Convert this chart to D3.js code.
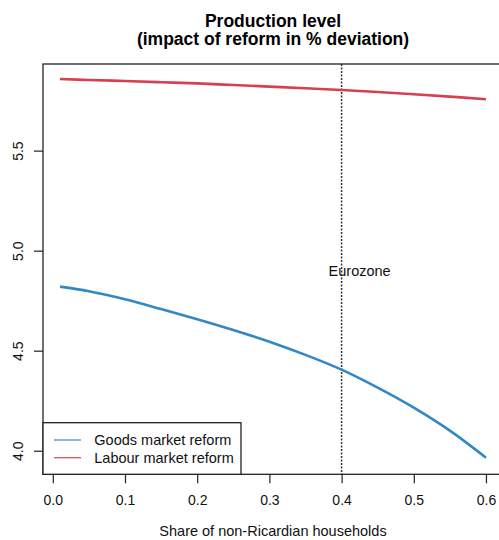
<!DOCTYPE html>
<html>
<head>
<meta charset="utf-8">
<script src="https://cdn.jsdelivr.net/npm/d3@7"></script>
<style>
  html, body { margin: 0; padding: 0; background: #fff; }
  svg { display: block; font-family: "Liberation Sans", Arial, sans-serif; }
</style>
</head>
<body>
<svg id="chart" width="499" height="540"></svg>
<script>
// ---- data ----
const shares = [0.01, 0.05, 0.10, 0.15, 0.20, 0.25, 0.30, 0.35, 0.40, 0.45, 0.50, 0.55, 0.60];
const goodsMarket = [4.82, 4.797, 4.757, 4.708, 4.657, 4.603, 4.545, 4.479, 4.405, 4.315, 4.215, 4.10, 3.965];
const labourMarket = [5.858, 5.853, 5.848, 5.842, 5.836, 5.828, 5.82, 5.812, 5.803, 5.793, 5.782, 5.77, 5.757];
const xTicks = [0.0, 0.1, 0.2, 0.3, 0.4, 0.5, 0.6];
const yTicks = [4.0, 4.5, 5.0, 5.5];
const seriesNames = ["Goods market reform", "Labour market reform"];
const seriesColors = ["#3288c4", "#d9404f"];
const eurozoneShare = 0.4;
const eurozoneLabel = "Eurozone";
const titleLines = ["Production level", "(impact of reform in % deviation)"];
const xTitle = "Share of non-Ricardian households";

// ---- layout ----
const svg = d3.select("#chart");
const plot = { left: 43, right: 503, top: 64, bottom: 474.3 };

const x = d3.scaleLinear().domain([-0.0136, 0.6236]).range([plot.left, plot.right]);
const y = d3.scaleLinear().domain([3.882, 5.933]).range([plot.bottom, plot.top]);

// title
svg.append("g").selectAll("text").data(titleLines).join("text")
  .attr("x", (plot.left + plot.right) / 2)
  .attr("y", (d, i) => 26.5 + i * 18.5)
  .attr("text-anchor", "middle")
  .attr("font-weight", "bold")
  .attr("font-size", 17.5)
  .attr("fill", "#000")
  .text(d => d);

// clip
svg.append("clipPath").attr("id", "clip").append("rect")
  .attr("x", plot.left).attr("y", plot.top)
  .attr("width", plot.right - plot.left).attr("height", plot.bottom - plot.top);

const g = svg.append("g").attr("clip-path", "url(#clip)");

// vertical dotted line
g.append("line")
  .attr("x1", x(eurozoneShare)).attr("x2", x(eurozoneShare))
  .attr("y1", plot.top).attr("y2", plot.bottom)
  .attr("stroke", "#333").attr("stroke-width", 1.5)
  .attr("stroke-dasharray", "2,1.5");

// series
const series = [goodsMarket, labourMarket];
const line = d3.line()
  .x((d, i) => x(shares[i]))
  .y(d => y(d))
  .curve(d3.curveCatmullRom.alpha(0.5));

g.selectAll("path.series").data(series).join("path")
  .attr("class", "series")
  .attr("d", d => line(d))
  .attr("fill", "none")
  .attr("stroke", (d, i) => seriesColors[i])
  .attr("stroke-width", 2.6);

// Eurozone label
g.append("text")
  .attr("x", x(0.425)).attr("y", y(4.9))
  .attr("dy", "0.35em")
  .attr("text-anchor", "middle")
  .attr("font-size", 14.5)
  .attr("fill", "#111")
  .text(eurozoneLabel);

// box
svg.append("rect")
  .attr("x", plot.left).attr("y", plot.top)
  .attr("width", plot.right - plot.left).attr("height", plot.bottom - plot.top)
  .attr("fill", "none").attr("stroke", "#222").attr("stroke-width", 1.3);

// x axis
const xAxis = d3.axisBottom(x).tickValues(xTicks).tickFormat(d3.format(".1f"))
  .tickSize(9).tickPadding(12);
const xg = svg.append("g").attr("transform", `translate(0,${plot.bottom})`).call(xAxis);
xg.select(".domain").remove();
xg.selectAll(".tick line").attr("stroke", "#222").attr("stroke-width", 1.2);
xg.selectAll(".tick text").attr("font-size", 14).attr("font-family", "Liberation Sans, Arial, sans-serif").attr("fill", "#111");

// y axis
const yAxis = d3.axisLeft(y).tickValues(yTicks).tickFormat(d3.format(".1f"))
  .tickSize(9).tickPadding(0);
const yg = svg.append("g").attr("transform", `translate(${plot.left},0)`).call(yAxis);
yg.select(".domain").remove();
yg.selectAll(".tick line").attr("stroke", "#222").attr("stroke-width", 1.2);
yg.selectAll(".tick text")
  .attr("font-size", 14).attr("font-family", "Liberation Sans, Arial, sans-serif").attr("fill", "#111")
  .attr("x", null).attr("dy", null)
  .attr("text-anchor", "middle")
  .attr("transform", "translate(-20,0) rotate(-90)");

// x title
svg.append("text")
  .attr("x", (plot.left + plot.right) / 2)
  .attr("y", 535.5)
  .attr("text-anchor", "middle")
  .attr("font-size", 14.5)
  .attr("fill", "#111")
  .text(xTitle);

// legend
const legend = svg.append("g");
legend.append("rect")
  .attr("x", plot.left).attr("y", 422.7)
  .attr("width", 241 - plot.left).attr("height", plot.bottom - 422.7)
  .attr("fill", "#fff").attr("stroke", "#222").attr("stroke-width", 1.3);
const items = legend.selectAll("g.item").data(seriesNames).join("g")
  .attr("class", "item")
  .attr("transform", (d, i) => `translate(0,${440 + i * 17.7})`);
items.append("line")
  .attr("x1", 54).attr("x2", 81).attr("y1", 0).attr("y2", 0)
  .attr("stroke", (d, i) => seriesColors[i]).attr("stroke-width", 1.2);
items.append("text")
  .attr("x", 94.3).attr("y", 0).attr("dy", "0.35em")
  .attr("font-size", 14.5).attr("fill", "#111")
  .text(d => d);
</script>
</body>
</html>
